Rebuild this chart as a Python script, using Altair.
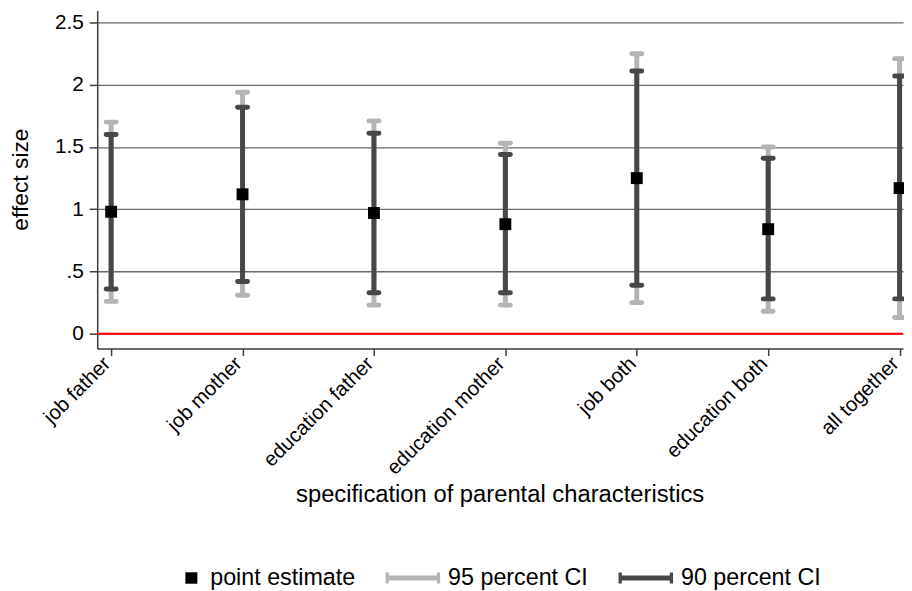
import json
import altair as alt
import pandas as pd

# ---- data ----
labels = ["job father", "job mother", "education father", "education mother",
          "job both", "education both", "all together"]
positions = [1, 2, 3, 4, 5, 6, 7]
est = [0.98, 1.12, 0.97, 0.88, 1.25, 0.84, 1.17]
lo90 = [0.36, 0.42, 0.33, 0.33, 0.39, 0.28, 0.28]
hi90 = [1.60, 1.82, 1.61, 1.44, 2.11, 1.41, 2.07]
lo95 = [0.26, 0.31, 0.23, 0.23, 0.25, 0.18, 0.13]
hi95 = [1.70, 1.94, 1.71, 1.53, 2.25, 1.50, 2.21]

y_ticks = [0, 0.5, 1, 1.5, 2, 2.5]
legend_items = ["point estimate", "95 percent CI", "90 percent CI"]
legend_colors = ["#000000", "#b4b4b4", "#474747"]

df = pd.DataFrame({"pos": positions, "label": labels, "est": est,
                   "lo90": lo90, "hi90": hi90, "lo95": lo95, "hi95": hi95})
zero_df = pd.DataFrame({"zero": [0]})
leg_df = pd.DataFrame({"series": legend_items, "pos": [1, 1, 1], "yy": [-10, -10, -10]})

FONT = "Liberation Sans"
LIGHT = "#b4b4b4"
DARK = "#474747"

xscale = alt.Scale(domain=[0.894, 7.026], nice=False, zero=False)
yscale = alt.Scale(domain=[-0.119, 2.596], nice=False, zero=False)

x_axis = alt.Axis(
    values=positions,
    labelExpr=json.dumps(labels) + "[datum.value - 1]",
    labelAngle=-45, labelAlign="right", labelBaseline="alphabetic",
    labelFont=FONT, labelFontSize=20.5, labelColor="#000000", labelPadding=9,
    tickSize=7, tickColor="#3c3c3c", tickWidth=1.5,
    domainColor="#3c3c3c", domainWidth=1.5, grid=False,
    title="specification of parental characteristics",
    titleFont=FONT, titleFontSize=24, titleFontWeight="normal", titleColor="#000000",
    titleX=406, titleY=147, titleBaseline="middle", titleAlign="center",
)
y_axis = alt.Axis(
    values=y_ticks,
    labelExpr="datum.value == 0.5 ? '.5' : format(datum.value, '~g')",
    labelFont=FONT, labelFontSize=21, labelColor="#000000", labelPadding=6,
    tickSize=8, tickColor="#3c3c3c", tickWidth=1.5,
    domainColor="#3c3c3c", domainWidth=1.5,
    grid=True, gridColor="#6a6a6a", gridWidth=1.3,
    title="effect size",
    titleFont=FONT, titleFontSize=23, titleFontWeight="normal", titleColor="#000000",
    titleAngle=270, titleX=-77, titleY=170, titleBaseline="middle", titleAlign="center",
)


def X(field="pos"):
    return alt.X(f"{field}:Q", scale=xscale, axis=x_axis)


def Y(field):
    return alt.Y(f"{field}:Q", scale=yscale, axis=y_axis)


base = alt.Chart(df)

zero_line = alt.Chart(zero_df).mark_rule(color="#ff0000", strokeWidth=2).encode(y=Y("zero"))

bar95 = base.mark_rule(color=LIGHT, strokeWidth=5).encode(x=X(), y=Y("lo95"), y2="hi95")
cap95_lo = base.mark_rule(color=LIGHT, strokeWidth=5, strokeCap="round",
                          xOffset=-5, x2Offset=5).encode(x=X(), x2="pos", y=Y("lo95"))
cap95_hi = base.mark_rule(color=LIGHT, strokeWidth=5, strokeCap="round",
                          xOffset=-5, x2Offset=5).encode(x=X(), x2="pos", y=Y("hi95"))

bar90 = base.mark_rule(color=DARK, strokeWidth=5).encode(x=X(), y=Y("lo90"), y2="hi90")
cap90_lo = base.mark_rule(color=DARK, strokeWidth=5, strokeCap="round",
                          xOffset=-5, x2Offset=5).encode(x=X(), x2="pos", y=Y("lo90"))
cap90_hi = base.mark_rule(color=DARK, strokeWidth=5, strokeCap="round",
                          xOffset=-5, x2Offset=5).encode(x=X(), x2="pos", y=Y("hi90"))

points = base.mark_square(size=144, color="#000000", opacity=1, filled=True).encode(
    x=X(), y=Y("est"))

sq_path = "M0.38,-0.21H0.82V0.21H0.38Z"
line_path = "M-1,-0.09H1V0.09H-1Z M-1,-0.2H-0.88V0.2H-1Z M0.88,-0.2H1V0.2H0.88Z"

legend = alt.Legend(
    orient="none", legendX=51, legendY=545, direction="horizontal", title=None,
    symbolSize=3025, symbolStrokeWidth=0, labelFont=FONT, labelFontSize=23.5,
    labelColor="#000000", labelOffset=8, columnPadding=30,
)
legend_layer = alt.Chart(leg_df).mark_point(filled=True, clip=True, opacity=1).encode(
    x=X(), y=Y("yy"),
    color=alt.Color("series:N", scale=alt.Scale(domain=legend_items, range=legend_colors),
                    legend=legend),
    shape=alt.Shape("series:N", scale=alt.Scale(domain=legend_items,
                                                range=[sq_path, line_path, line_path]),
                    legend=legend),
)

chart = alt.layer(
    zero_line, bar95, cap95_lo, cap95_hi, bar90, cap90_lo, cap90_hi, points, legend_layer
).properties(
    width=813, height=341,
    autosize=alt.AutoSizeParams(type="none"),
    padding={"left": 90, "top": 0, "right": 1, "bottom": 242},
    background="#ffffff",
).configure_view(stroke=None)

chart.save("out.html", embed_options={"renderer": "svg", "actions": False})
